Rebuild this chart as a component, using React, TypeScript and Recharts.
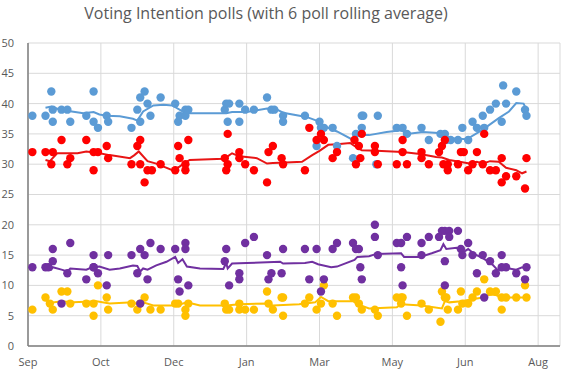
import React from "react";
import { ComposedChart, Scatter, Line, XAxis, YAxis, CartesianGrid } from "recharts";

const TITLE = "Voting Intention polls (with 6 poll rolling average)";
const xTickDays = [0, 50, 100, 150, 200, 250, 300, 350];
const xTickLabels = ["Sep", "Oct", "Dec", "Jan", "Mar", "May", "Jun", "Aug"];
const yTicks = [0, 5, 10, 15, 20, 25, 30, 35, 40, 45, 50];

// [day since start, value]
const bluePolls = [
  [3,38],[12,38],[16,42],[17,39],[17,37],[23,39],[27,39],[29,37],[40,38],[45,42],[45,37],[48,36],
  [54,38],[55,37],[71,36],[75,39],[77,41],[77,37],[80,42],[82,40],[84,38],[91,41],[101,40],[103,37],
  [104,38],[108,39],[108,38],[110,39],[135,39],[136,40],[138,40],[137,37],[145,37],[145,40],[149,39],
  [155,39],[164,41],[167,39],[169,39],[175,38],[175,37],[190,38],[198,33],[200,37],[201,36],[203,36],
  [209,36],[212,33],[223,31],[225,35],[229,36],[229,38],[230,38],[239,30],[240,38],[253,36],[257,36],
  [260,35],[270,36],[275,34],[283,35],[286,35],[287,34],[290,34],[295,34],[298,36],[302,34],[305,37],
  [308,36],[312,38],[313,36],[317,39],[321,40],[325,37],[326,43],[328,40],[335,42],[341,39],[342,38],
];
const blueAvg = [
  [12,39.3],[16,39.5],[22,39],[38,38.4],[45,38.6],[49,38.2],[54,38],[63,37.9],[72,37.5],[75,37.2],
  [79,38.7],[86,39.7],[93,39.8],[99,39.7],[106,38.7],[109,38.4],[136,38.4],[140,38.6],[150,38.6],
  [164,39.2],[171,39],[175,38.5],[191,37.8],[198,37.2],[203,36.3],[212,35.4],[223,34],[226,34.8],
  [234,34.8],[246,35.3],[256,35.6],[260,35],[271,35.3],[284,35.1],[289,34.3],[301,34.1],[312,35.7],
  [323,37.6],[330,38.7],[335,40.1],[340,40],[342,39],
];

const redPolls = [
  [3,32],[12,32],[17,32],[16,30],[23,34],[27,30],[29,31],[40,34],[45,29],[45,32],[48,32],[54,33],
  [55,31],[71,30],[75,33],[77,34],[77,30],[80,27],[82,29],[85,29],[91,30],[101,29],[103,33],[104,31],
  [108,29],[108,30],[110,34],[135,31],[137,35],[137,30],[136,29],[145,32],[145,31],[149,30],[155,29],
  [164,27],[165,32],[168,33],[174,31],[175,30],[190,29],[193,36],[198,34],[201,35],[203,34],[209,31],
  [212,32],[224,34],[225,30],[227,33],[228,31],[229,35],[238,33],[238,32],[240,30],[253,30],[257,34],
  [257,32],[260,30],[270,32],[270,31],[275,30],[282,32],[284,33],[286,34],[285,30],[288,30],[288,29],
  [295,30],[297,32],[299,32],[302,29],[305,30],[308,32],[313,35],[312,30],[317,29],[321,29],[325,31],
  [325,27],[328,28],[335,28],[342,31],[341,26],
];
const redAvg = [
  [12,30.7],[15,30.5],[20,31.8],[34,31.8],[40,32.1],[49,31.8],[56,31.5],[70,31],[73,31.5],[76,32.1],
  [82,30.5],[88,30.1],[99,29],[104,29.6],[108,30.3],[111,30.7],[134,30.9],[137,31.3],[140,31.8],
  [145,31.3],[157,31],[164,30.1],[168,30.2],[177,30.3],[188,30.4],[195,31.5],[200,32.2],[206,33.2],
  [212,33.3],[221,33.5],[224,33],[229,32.3],[239,32.2],[257,32],[269,31.7],[280,31.2],[284,31.1],
  [289,30.7],[296,30.4],[303,30.1],[308,30.4],[312,30.1],[317,30.5],[323,30.4],[328,29.4],[335,29],
  [339,28.5],[342,28.8],
];

const purplePolls = [
  [3,13],[12,13],[14,13],[17,14],[17,16],[23,7],[29,17],[27,12],[40,11],[45,13],[45,13],[45,15],
  [48,12],[54,10],[55,15],[71,15],[75,12],[77,16],[77,7],[80,15],[82,11],[84,17],[91,16],[101,16],
  [103,11],[104,9],[108,17],[108,16],[110,10],[135,14],[136,16],[138,10],[145,12],[145,11],[149,17],
  [155,18],[164,15],[165,11],[167,12],[175,16],[174,12],[190,16],[193,11],[198,16],[201,9],[203,11],
  [209,16],[212,17],[223,17],[225,16],[227,16],[228,13],[229,11],[238,20],[238,18],[240,15],[253,17],
  [256,17],[256,13],[257,10],[260,18],[270,17],[270,15],[275,18],[282,18],[284,19],[286,19],[289,19],
  [289,18],[295,19],[286,14],[286,10],[297,16],[298,15],[302,17],[305,15],[308,12],[312,15],[313,8],
  [317,14],[321,12],[325,15],[325,13],[328,13],[335,12],[342,13],[341,11],
];
const purpleAvg = [
  [12,12.8],[16,12.6],[17,13],[23,12.6],[27,12.3],[29,12.8],[40,12.6],[44,13],[49,13.1],[56,12.6],
  [63,12.8],[72,13.3],[75,13.2],[77,12.3],[79,12.8],[82,12.6],[88,13.3],[95,13.9],[101,14.7],
  [103,13.7],[106,14.3],[109,13.1],[118,12.8],[134,12.7],[136,13.7],[137,12.8],[140,13.6],[150,13.7],
  [173,13.9],[175,13.6],[190,13.7],[195,13.9],[199,13.5],[208,13],[212,13.1],[224,14.2],[226,14.7],
  [234,14.8],[239,15.2],[256,15.3],[258,14.7],[269,14.7],[277,15.3],[283,15.8],[285,16.8],[287,16],
  [294,16.2],[298,15.4],[302,16],[306,15.2],[312,14.5],[318,13.6],[322,12.6],[325,12.7],[330,12.8],
  [335,12.6],[339,13],[342,12.8],
];

const yellowPolls = [
  [3,6],[12,8],[15,7],[17,6],[23,9],[27,9],[29,7],[40,7],[45,7],[45,5],[48,10],[54,8],[55,6],[71,7],
  [75,6],[77,7],[80,8],[84,6],[91,6],[101,7],[103,7],[108,6],[108,5],[110,7],[135,7],[136,6],[138,6],
  [145,7],[145,6],[149,6],[155,6],[164,9],[165,7],[168,6],[174,8],[175,8],[175,5],[190,7],[193,8],
  [198,6],[201,7],[203,10],[209,7],[212,5],[223,8],[225,8],[227,7],[229,6],[238,6],[240,5],[253,8],
  [256,8],[257,8],[256,7],[260,5],[270,7],[275,6],[283,4],[284,9],[286,8],[287,8],[288,6],[295,6],
  [297,9],[298,7],[302,7],[305,8],[308,9],[313,11],[317,9],[321,9],[325,6],[325,8],[328,8],[335,8],
  [342,8],[341,10],
];
const yellowAvg = [
  [12,7.6],[17,7.2],[23,7.4],[31,7.2],[47,7.4],[56,7],[72,7.2],[77,6.7],[79,7.2],[86,6.7],[102,6.7],
  [109,7.2],[118,6.7],[136,6.7],[145,6.9],[164,7],[168,6.7],[186,6.9],[197,7.2],[201,8.1],[206,7.4],
  [223,7.4],[226,6.9],[234,6.2],[253,6.4],[256,6.9],[270,6.7],[284,6.2],[286,7.4],[289,7.2],
  [297,7.4],[305,7.7],[312,8],[317,8.5],[321,8.4],[325,8],[335,8],[342,8],
];

const toRows = (arr: number[][]) => arr.map(([d, v]) => ({ d, v }));

const series = [
  { name: "blue", polls: bluePolls, avg: blueAvg, dot: "#5B9BD5", line: "#5B9BD5" },
  { name: "red", polls: redPolls, avg: redAvg, dot: "#FF0000", line: "#E81515" },
  { name: "yellow", polls: yellowPolls, avg: yellowAvg, dot: "#FFC000", line: "#FFC000" },
  { name: "purple", polls: purplePolls, avg: purpleAvg, dot: "#7030A0", line: "#7030A0" },
];

const dotShape = (color: string) => (props: any) => (
  <circle cx={props.cx} cy={props.cy} r={4.2} fill={color} />
);

const tickStyle = { fill: "#595959", fontSize: 11, fontFamily: "Open Sans, sans-serif" };

export default function App() {
  return (
    <div style={{ position: "absolute", left: 0, top: 0, width: 570, height: 374, background: "#fff" }}>
      <div
        style={{
          position: "absolute",
          left: 0,
          top: 2,
          width: 532,
          textAlign: "center",
          fontFamily: "Open Sans, sans-serif",
          fontSize: 16,
          color: "#595959",
          whiteSpace: "nowrap",
        }}
      >
        {TITLE}
      </div>
      <ComposedChart width={570} height={374} margin={{ top: 43, right: 10, bottom: 0, left: 0 }}>
        <CartesianGrid stroke="#d9d9d9" strokeWidth={1} />
        <XAxis
          type="number"
          dataKey="d"
          domain={[0, 365]}
          ticks={xTickDays}
          tickFormatter={(v: number) => xTickLabels[xTickDays.indexOf(v)] ?? ""}
          tickLine={false}
          axisLine={{ stroke: "#7f7f7f", strokeWidth: 1.5 }}
          tick={tickStyle}
          height={28}
          tickMargin={6}
          allowDuplicatedCategory={false}
        />
        <YAxis
          type="number"
          domain={[0, 50]}
          ticks={yTicks}
          tickLine={false}
          axisLine={{ stroke: "#7f7f7f", strokeWidth: 1.5 }}
          tick={tickStyle}
          width={28}
          tickMargin={8}
        />
        {series.map((s) => (
          <Scatter
            key={s.name + "-pts"}
            data={toRows(s.polls)}
            dataKey="v"
            fill={s.dot}
            shape={dotShape(s.dot)}
            isAnimationActive={false}
          />
        ))}
        {series.map((s) => (
          <Line
            key={s.name + "-avg"}
            data={toRows(s.avg)}
            dataKey="v"
            type="linear"
            stroke={s.line}
            strokeWidth={2}
            dot={false}
            activeDot={false}
            isAnimationActive={false}
          />
        ))}
      </ComposedChart>
    </div>
  );
}
